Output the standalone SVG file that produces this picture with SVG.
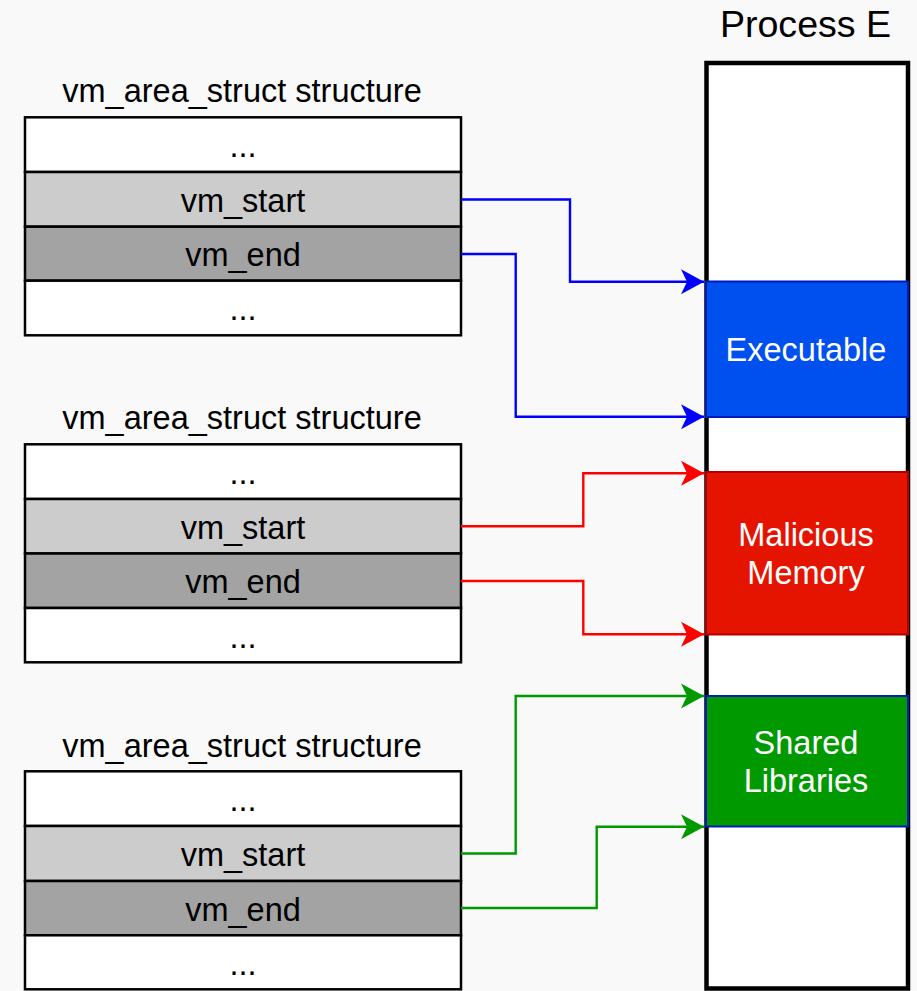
<svg xmlns="http://www.w3.org/2000/svg" width="917" height="991" viewBox="0 0 917 991">
<style>
text{font-family:"Liberation Sans",Arial,sans-serif;text-anchor:middle}
.t{font-size:32.5px;fill:#000}
.w{font-size:32.5px;fill:#fff}
.row{stroke:#000;stroke-width:2.5}
.e{fill:#fff}.s{fill:#cccccc}.d{fill:#a3a3a3}
.c{fill:none;stroke-width:2.4}
</style>
<defs>
<marker id="ab" viewBox="0 0 24 26" refX="24" refY="13" markerWidth="24" markerHeight="26" markerUnits="userSpaceOnUse" orient="auto"><path d="M24,13 L1,0.5 L7,13 L1,25.5 Z" fill="#0000ff"/></marker>
<marker id="ar" viewBox="0 0 24 26" refX="24" refY="13" markerWidth="24" markerHeight="26" markerUnits="userSpaceOnUse" orient="auto"><path d="M24,13 L1,0.5 L7,13 L1,25.5 Z" fill="#ff0000"/></marker>
<marker id="ag" viewBox="0 0 24 26" refX="24" refY="13" markerWidth="24" markerHeight="26" markerUnits="userSpaceOnUse" orient="auto"><path d="M24,13 L1,0.5 L7,13 L1,25.5 Z" fill="#009900"/></marker>
</defs>
<rect width="917" height="991" fill="#f9f9f9"/>

<g id="process">
<text x="805.5" y="36.7" style="font-size:37.6px" fill="#000">Process E</text>
<rect x="706.5" y="63" width="201.5" height="925.5" fill="#fff" stroke="#000" stroke-width="4.5"/>
</g>
<g id="executable">
<rect x="706" y="281.5" width="202" height="135.5" fill="#0050ef" stroke="#001dbc" stroke-width="2"/>
<text class="w" x="806" y="360.7">Executable</text>
</g>
<g id="malicious">
<rect x="706" y="472" width="202" height="162.5" fill="#e51400" stroke="#b20000" stroke-width="2"/>
<text class="w" x="806" y="545.7">Malicious</text>
<text class="w" x="806" y="583.5">Memory</text>
</g>
<g id="shared">
<rect x="706" y="696" width="202" height="130.5" fill="#009900" stroke="#001dbc" stroke-width="2"/>
<text class="w" x="806" y="754">Shared</text>
<text class="w" x="806" y="792.3">Libraries</text>
</g>

<g id="struct1">
<text class="t" x="242" y="101.5">vm_area_struct structure</text>
<rect class="row e" x="25" y="117.3" width="436" height="54.7"/>
<rect class="row s" x="25" y="172" width="436" height="54.7"/>
<rect class="row d" x="25" y="226.7" width="436" height="54"/>
<rect class="row e" x="25" y="280.7" width="436" height="54.6"/>
<text class="t" x="243" y="157">...</text>
<text class="t" x="243" y="211.5">vm_start</text>
<text class="t" x="243" y="266">vm_end</text>
<text class="t" x="243" y="320">...</text>
</g>
<g id="struct2">
<text class="t" x="242" y="428.5">vm_area_struct structure</text>
<rect class="row e" x="25" y="444.3" width="436" height="54.7"/>
<rect class="row s" x="25" y="499" width="436" height="54.5"/>
<rect class="row d" x="25" y="553.5" width="436" height="54.5"/>
<rect class="row e" x="25" y="608" width="436" height="54.3"/>
<text class="t" x="243" y="484">...</text>
<text class="t" x="243" y="538.5">vm_start</text>
<text class="t" x="243" y="593">vm_end</text>
<text class="t" x="243" y="647.5">...</text>
</g>
<g id="struct3">
<text class="t" x="242" y="756.5">vm_area_struct structure</text>
<rect class="row e" x="25" y="771.3" width="436" height="54.7"/>
<rect class="row s" x="25" y="826" width="436" height="55"/>
<rect class="row d" x="25" y="881" width="436" height="54.3"/>
<rect class="row e" x="25" y="935.3" width="436" height="54"/>
<text class="t" x="243" y="811">...</text>
<text class="t" x="243" y="866">vm_start</text>
<text class="t" x="243" y="920.5">vm_end</text>
<text class="t" x="243" y="975">...</text>
</g>

<g id="connectors">
<path class="c" stroke="#0000ff" marker-end="url(#ab)" d="M461,199.5 H570 V281.7 H704"/>
<path class="c" stroke="#0000ff" marker-end="url(#ab)" d="M461,254 H515.7 V416.7 H704"/>
<path class="c" stroke="#ff0000" marker-end="url(#ar)" d="M461,526.3 H583.3 V473.3 H704"/>
<path class="c" stroke="#ff0000" marker-end="url(#ar)" d="M461,581 H583.3 V634.3 H704"/>
<path class="c" stroke="#009900" marker-end="url(#ag)" d="M461,853.5 H515.7 V696 H704"/>
<path class="c" stroke="#009900" marker-end="url(#ag)" d="M461,908 H596.7 V826.7 H704"/>
</g>
</svg>
